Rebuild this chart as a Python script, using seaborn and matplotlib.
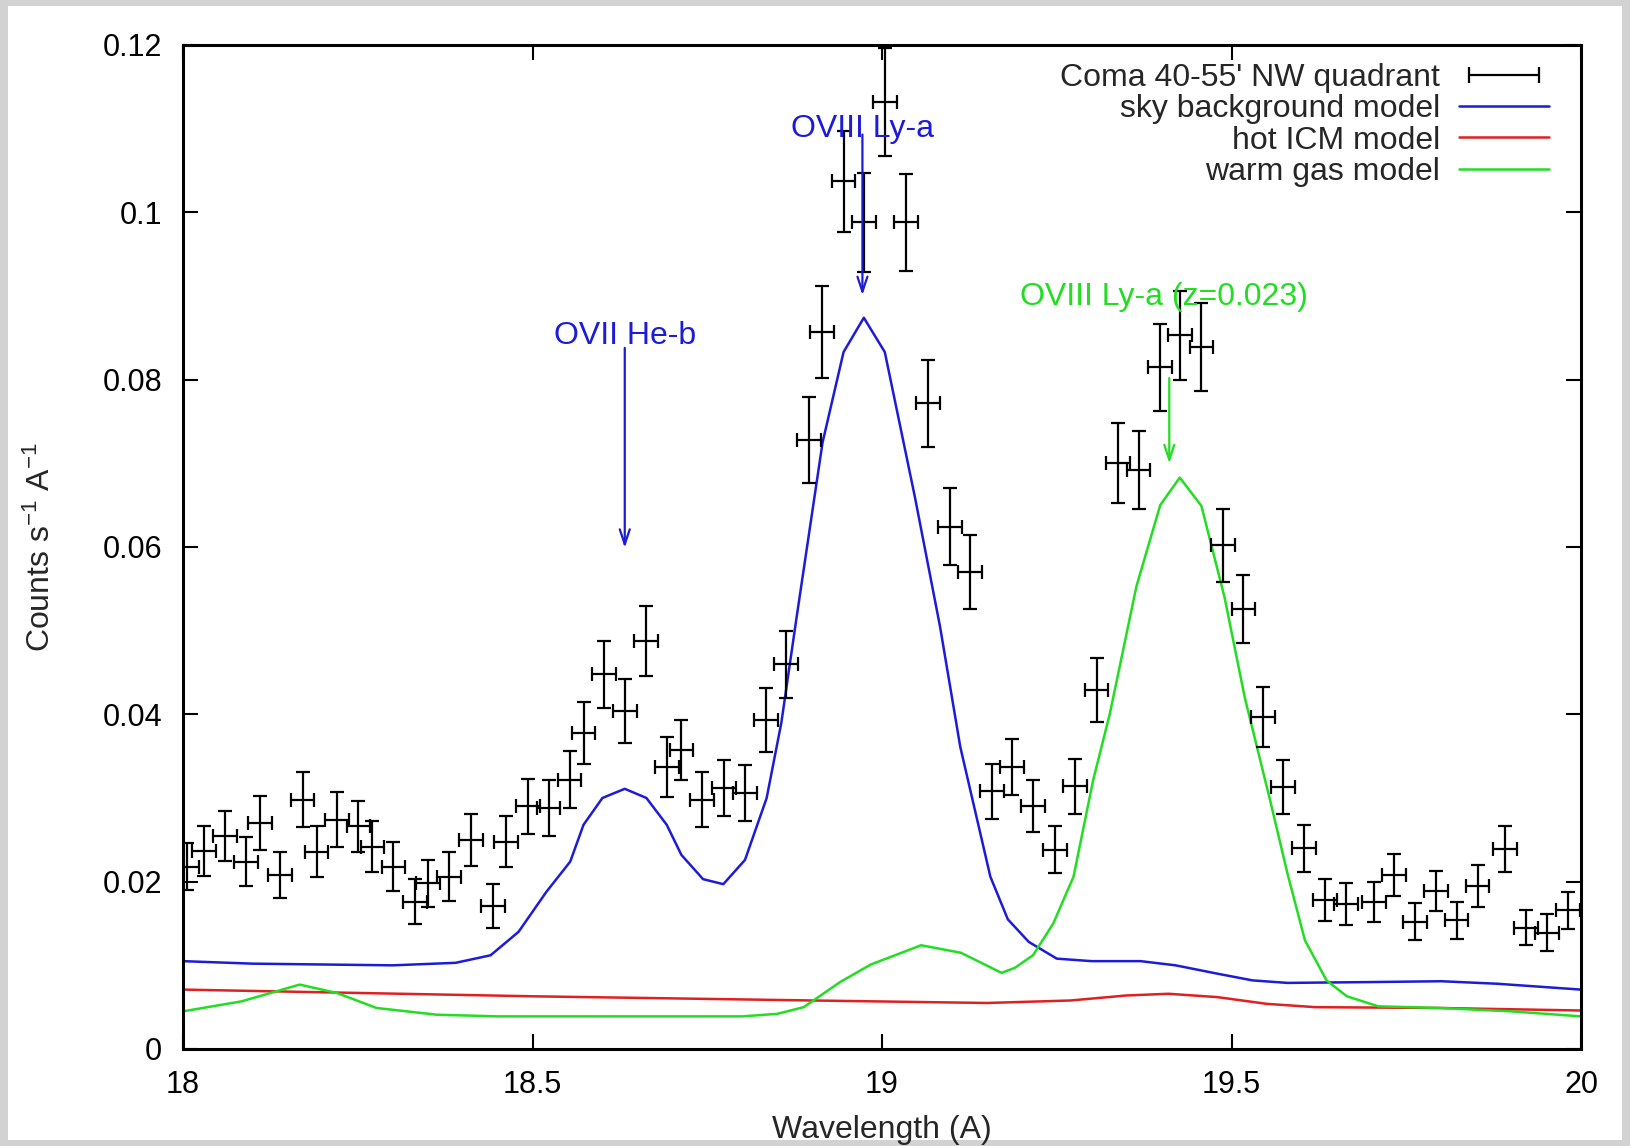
import numpy as np
import pandas as pd
import matplotlib
matplotlib.use("Agg")
import matplotlib.pyplot as plt
from matplotlib.lines import Line2D
from matplotlib.legend_handler import HandlerLine2D
from matplotlib.patches import Rectangle
import seaborn as sns

# ---------------- data ----------------
wavelength = [18.006, 18.030, 18.060, 18.090, 18.110, 18.139, 18.171, 18.191, 18.220, 18.251,
              18.271, 18.301, 18.332, 18.351, 18.381, 18.412, 18.443, 18.462, 18.494, 18.523,
              18.553, 18.573, 18.602, 18.632, 18.662, 18.692, 18.713, 18.743, 18.774, 18.804,
              18.834, 18.863, 18.896, 18.914, 18.945, 18.974, 19.004, 19.034, 19.066, 19.097,
              19.126, 19.157, 19.186, 19.216, 19.248, 19.276, 19.307, 19.338, 19.367, 19.398,
              19.426, 19.457, 19.488, 19.517, 19.545, 19.574, 19.604, 19.634, 19.664, 19.704,
              19.733, 19.762, 19.793, 19.822, 19.852, 19.891, 19.921, 19.951, 19.981]
counts = [0.0218, 0.0237, 0.0255, 0.0224, 0.0270, 0.0208, 0.0298, 0.0236, 0.0274, 0.0266,
          0.0242, 0.0218, 0.0176, 0.0198, 0.0206, 0.0250, 0.0171, 0.0248, 0.0290, 0.0288,
          0.0322, 0.0378, 0.0448, 0.0404, 0.0488, 0.0337, 0.0357, 0.0298, 0.0312, 0.0306,
          0.0393, 0.0460, 0.0728, 0.0857, 0.1037, 0.0988, 0.1132, 0.0988, 0.0772, 0.0624,
          0.0570, 0.0308, 0.0337, 0.0290, 0.0238, 0.0314, 0.0429, 0.0700, 0.0692, 0.0815,
          0.0853, 0.0839, 0.0602, 0.0526, 0.0397, 0.0313, 0.0240, 0.0178, 0.0173, 0.0176,
          0.0208, 0.0152, 0.0189, 0.0154, 0.0195, 0.0239, 0.0145, 0.0139, 0.0166]
counts_err = [0.0028, 0.0030, 0.0030, 0.0029, 0.0032, 0.0028, 0.0033, 0.0030, 0.0033, 0.0031,
              0.0031, 0.0029, 0.0027, 0.0028, 0.0029, 0.0031, 0.0026, 0.0030, 0.0033, 0.0033,
              0.0034, 0.0037, 0.0040, 0.0038, 0.0042, 0.0036, 0.0036, 0.0033, 0.0033, 0.0033,
              0.0038, 0.0040, 0.0051, 0.0055, 0.0060, 0.0059, 0.0065, 0.0058, 0.0052, 0.0046,
              0.0044, 0.0033, 0.0034, 0.0031, 0.0028, 0.0033, 0.0038, 0.0048, 0.0047, 0.0052,
              0.0053, 0.0053, 0.0044, 0.0041, 0.0036, 0.0032, 0.0028, 0.0025, 0.0025, 0.0024,
              0.0025, 0.0022, 0.0024, 0.0022, 0.0025, 0.0028, 0.0021, 0.0022, 0.0022]
bin_halfwidth = 0.017

sky_lam = [18.00, 18.10, 18.20, 18.30, 18.39, 18.44, 18.48, 18.52, 18.554, 18.573, 18.60,
           18.632, 18.663, 18.692, 18.713, 18.744, 18.773, 18.804, 18.835, 18.856, 18.878,
           18.915, 18.945, 18.974, 19.004, 19.047, 19.083, 19.112, 19.155, 19.18, 19.21,
           19.25, 19.30, 19.37, 19.42, 19.48, 19.53, 19.58, 19.70, 19.80, 19.88, 20.00]
sky_model = [0.0105, 0.0102, 0.0101, 0.0100, 0.0103, 0.0112, 0.0140, 0.0188, 0.0224, 0.0268,
             0.0300, 0.0311, 0.0300, 0.0268, 0.0232, 0.0203, 0.0197, 0.0226, 0.0300, 0.0390,
             0.0517, 0.0725, 0.0833, 0.0874, 0.0833, 0.0660, 0.0505, 0.0361, 0.0206, 0.0155,
             0.0128, 0.0108, 0.0105, 0.0105, 0.0100, 0.0090, 0.0082, 0.0079, 0.0080, 0.0081,
             0.0078, 0.0071]

icm_lam = [18.0, 18.5, 18.9, 19.15, 19.27, 19.35, 19.41, 19.48, 19.55, 19.62, 19.80, 20.0]
icm_model = [0.0071, 0.0063, 0.0058, 0.0055, 0.0058, 0.0064, 0.0066, 0.0062, 0.0054, 0.0050,
             0.0049, 0.0046]

warm_lam = [18.0, 18.084, 18.167, 18.22, 18.277, 18.363, 18.45, 18.80, 18.85, 18.888, 18.94,
            18.984, 19.056, 19.113, 19.171, 19.19, 19.216, 19.245, 19.274, 19.302, 19.326,
            19.364, 19.398, 19.426, 19.457, 19.49, 19.519, 19.555, 19.58, 19.605, 19.636,
            19.665, 19.71, 19.80, 19.90, 20.0]
warm_model = [0.0045, 0.0057, 0.0077, 0.0067, 0.0049, 0.0041, 0.0039, 0.0039, 0.0042, 0.0050,
              0.0080, 0.0101, 0.0124, 0.0115, 0.0091, 0.0097, 0.0112, 0.0150, 0.0206, 0.0321,
              0.0401, 0.0553, 0.0650, 0.0683, 0.0649, 0.0540, 0.0420, 0.0298, 0.0210, 0.0130,
              0.0082, 0.0063, 0.0051, 0.0049, 0.0045, 0.0039]

line_labels = ["OVII He-b", "OVIII Ly-a", "OVIII Ly-a (z=0.023)"]
line_text_pos = [(18.632, 0.0852), (18.972, 0.1100), (19.404, 0.0899)]
line_arrow_from = [0.0838, 0.1093, 0.0802]
line_arrow_to = [0.0599, 0.0901, 0.0700]
line_arrow_x = [18.632, 18.972, 19.411]

x_ticks = [18, 18.5, 19, 19.5, 20]
x_ticklabels = ["18", "18.5", "19", "19.5", "20"]
y_ticks = [0, 0.02, 0.04, 0.06, 0.08, 0.1, 0.12]
y_ticklabels = ["0", "0.02", "0.04", "0.06", "0.08", "0.1", "0.12"]

# ---------------- style ----------------
sns.set_theme(style="ticks")
plt.rcParams["font.family"] = ["Liberation Sans", "DejaVu Sans"]
plt.rcParams["mathtext.default"] = "regular"
FS = 23
TFS = 22

BLUE = "#1c1cd8"
RED = "#e02020"
GREEN = "#22dd22"

fig = plt.figure(figsize=(16.3, 11.46), dpi=100, facecolor="#d2d2d2")
fig.patches.append(Rectangle((8 / 1630, 6 / 1146), (1622 - 8) / 1630, (1140 - 6) / 1146,
                             transform=fig.transFigure, facecolor="white",
                             edgecolor="none", zorder=-10))
ax = fig.add_axes([183 / 1630, (1146 - 1049) / 1146, (1581 - 183) / 1630, (1049 - 45) / 1146])
ax.set_facecolor("white")

# data with error bars
ax.errorbar(wavelength, counts, xerr=bin_halfwidth, yerr=counts_err, fmt="none",
            ecolor="black", elinewidth=1.6, capsize=5, capthick=1.6, zorder=3)

# models
df_sky = pd.DataFrame({"lam": sky_lam, "val": sky_model})
df_icm = pd.DataFrame({"lam": icm_lam, "val": icm_model})
df_warm = pd.DataFrame({"lam": warm_lam, "val": warm_model})
sns.lineplot(data=df_sky, x="lam", y="val", color=BLUE, lw=1.8, estimator=None,
             sort=False, ax=ax, legend=False, zorder=2)
sns.lineplot(data=df_icm, x="lam", y="val", color=RED, lw=1.8, estimator=None,
             sort=False, ax=ax, legend=False, zorder=2)
sns.lineplot(data=df_warm, x="lam", y="val", color=GREEN, lw=1.8, estimator=None,
             sort=False, ax=ax, legend=False, zorder=2)

# line annotations
ann_colors = [BLUE, BLUE, GREEN]
for lab, (tx, ty), y0, y1, xa, c in zip(line_labels, line_text_pos, line_arrow_from,
                                         line_arrow_to, line_arrow_x, ann_colors):
    ax.annotate("", xy=(xa, y1), xytext=(xa, y0),
                arrowprops=dict(arrowstyle="->,head_length=0.9,head_width=0.3",
                                color=c, lw=1.6, shrinkA=0, shrinkB=0), zorder=4)
    ax.text(tx, ty, lab, color=c, fontsize=FS, ha="center", va="center", zorder=5)

# axes
ax.set_xlim(18, 20)
ax.set_ylim(0, 0.12)
ax.set_xticks(x_ticks)
ax.set_xticklabels(x_ticklabels)
ax.set_yticks(y_ticks)
ax.set_yticklabels(y_ticklabels)
ax.tick_params(direction="in", length=11, width=1.5, top=True, right=True,
               labelsize=TFS, pad=15, colors="black")
for s in ax.spines.values():
    s.set_linewidth(2.2)
    s.set_color("black")
    s.set_visible(True)
ax.set_xlabel("Wavelength (A)", fontsize=FS, labelpad=11)
ax.set_ylabel("Counts s$^{-1}$ A$^{-1}$", fontsize=FS, labelpad=33)

# legend
h_data = Line2D([], [], color="black", lw=1.6, marker="|", markersize=12, mew=1.6)
h_sky = Line2D([], [], color=BLUE, lw=1.8)
h_icm = Line2D([], [], color=RED, lw=1.8)
h_warm = Line2D([], [], color=GREEN, lw=1.8)
ax.legend([h_data, h_sky, h_icm, h_warm],
          ["Coma 40-55' NW quadrant", "sky background model", "hot ICM model", "warm gas model"],
          handler_map={h_data: HandlerLine2D(numpoints=2)},
          loc="upper right", bbox_to_anchor=(0.977, 0.982), frameon=False,
          markerfirst=False, fontsize=FS, handlelength=2.8, handletextpad=0.6,
          labelspacing=0.04, borderaxespad=0, borderpad=0)

fig.savefig("out.png", dpi=100, facecolor=fig.get_facecolor())
